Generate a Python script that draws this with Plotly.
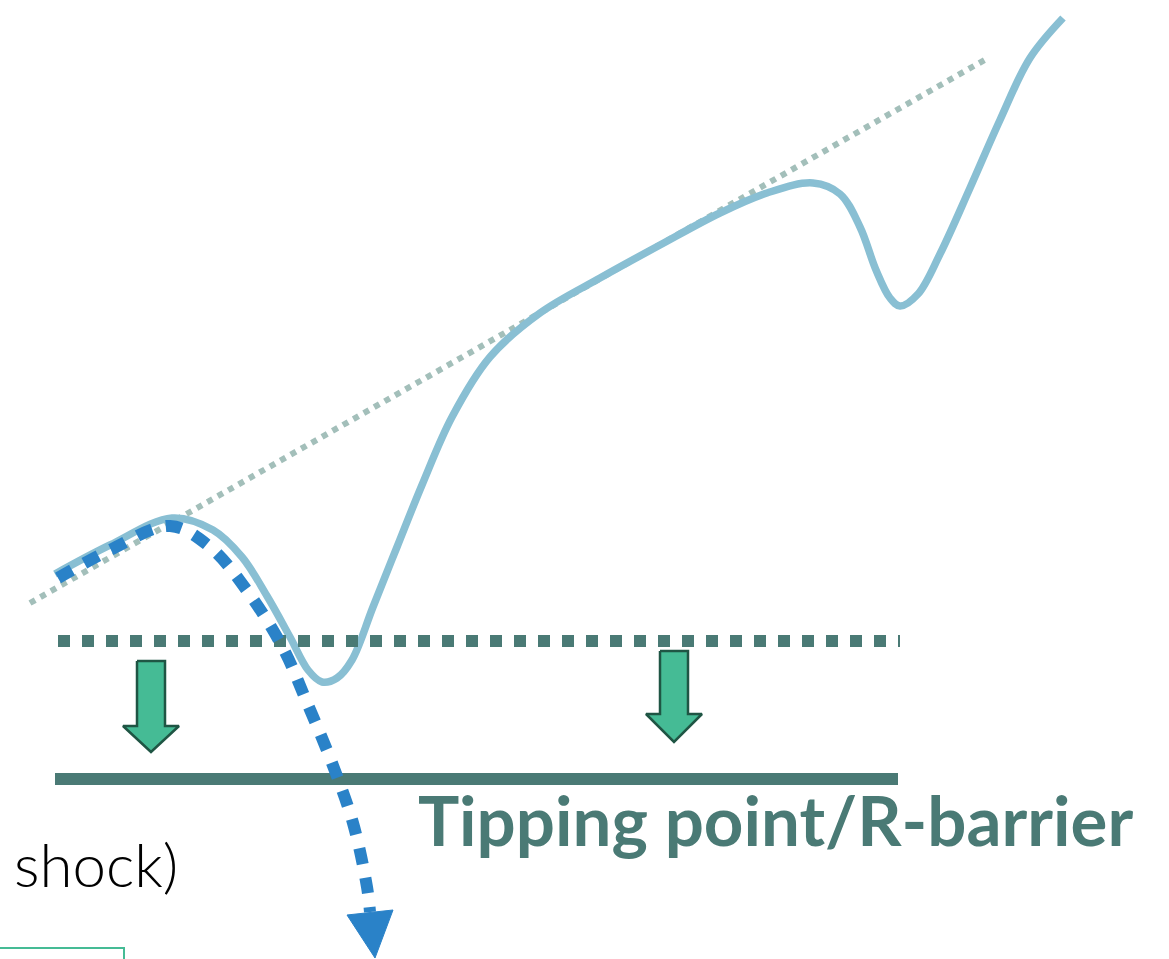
import plotly.graph_objects as go

# ---- data (diagram coordinates, pixel space) ----
curve_x = [55, 110, 172, 213, 242, 267, 290, 308, 322, 337, 352, 373, 397, 422, 452, 490, 540, 600, 660, 720, 767, 813, 840, 860, 876, 890, 900, 918, 940, 970, 1000, 1030, 1063]
curve_y = [574, 545, 518, 530, 557, 596, 637, 670, 682, 678, 660, 607, 547, 485, 417, 357, 313, 278, 245, 213, 193, 183, 194, 227, 270, 298, 306, 294, 254, 188, 120, 58, 18]

shock_x = [58, 110, 170, 210, 248, 283, 308, 332, 353, 367, 370]
shock_y = [578, 550, 526, 547, 592, 648, 705, 763, 823, 887, 912]

trend_x = [30, 988]
trend_y = [603, 58]

threshold_x = [58, 900]
threshold_y = [641, 641]

barrier_x = [55, 898]
barrier_y = [779, 779]

arrow_cx = [151, 674]
arrow_top = [661, 651]
arrow_head = [726, 714]
arrow_tip = [752, 742]

label_barrier = "Tipping point/R-barrier"
label_shock = "shock)"

# ---- styles ----
C_CURVE = "#89bfd3"
C_SHOCK = "#2a82c8"
C_TREND = "#a3bfba"
C_DARK = "#4a7a75"
C_GREEN = "#45bb95"
C_GREEN_EDGE = "#1f5544"

fig = go.Figure()

fig.add_trace(go.Scatter(x=trend_x, y=trend_y, mode="lines",
                         line=dict(color=C_TREND, width=6, dash="6px,6px"),
                         hoverinfo="skip"))
fig.add_trace(go.Scatter(x=curve_x, y=curve_y, mode="lines",
                         line=dict(color=C_CURVE, width=7.5, shape="spline", smoothing=1.0),
                         hoverinfo="skip"))
fig.add_trace(go.Scatter(x=threshold_x, y=threshold_y, mode="lines",
                         line=dict(color=C_DARK, width=12, dash="12px,12px"),
                         hoverinfo="skip"))
fig.add_trace(go.Scatter(x=barrier_x, y=barrier_y, mode="lines",
                         line=dict(color=C_DARK, width=12),
                         hoverinfo="skip"))
fig.add_trace(go.Scatter(x=shock_x, y=shock_y, mode="lines",
                         line=dict(color=C_SHOCK, width=12, dash="16px,14px", shape="spline", smoothing=1.0),
                         hoverinfo="skip"))

# arrow head of shock path
hx = shock_x[-1]
hy = shock_y[-1]
fig.add_trace(go.Scatter(x=[hx - 23, hx + 23, hx + 5, hx - 23], y=[hy + 3, hy - 2, hy + 46, hy + 3],
                         mode="lines", fill="toself", fillcolor=C_SHOCK,
                         line=dict(color=C_SHOCK, width=1), hoverinfo="skip"))

# green down arrows
for cx, t, h, tip in zip(arrow_cx, arrow_top, arrow_head, arrow_tip):
    sw, hw = 14, 28
    xs = [cx - sw, cx + sw, cx + sw, cx + hw, cx, cx - hw, cx - sw, cx - sw]
    ys = [t, t, h, h, tip, h, h, t]
    fig.add_trace(go.Scatter(x=xs, y=ys, mode="lines", fill="toself", fillcolor=C_GREEN,
                             line=dict(color=C_GREEN_EDGE, width=2.5), hoverinfo="skip"))

# partial box at bottom left
fig.add_shape(type="rect", x0=-10, x1=124, y0=948, y1=975,
              line=dict(color=C_GREEN, width=2), fillcolor="rgba(0,0,0,0)")

fig.add_annotation(x=416, y=819, text=label_barrier, showarrow=False,
                   xanchor="left", yanchor="middle",
                   font=dict(family="Lato", size=69, color=C_DARK, weight=700))
fig.add_annotation(x=12, y=864, text=label_shock, showarrow=False,
                   xanchor="left", yanchor="middle",
                   font=dict(family="Lato", size=60, color="#000000", weight=300))

fig.update_layout(
    width=1169, height=959,
    margin=dict(l=0, r=0, t=0, b=0),
    paper_bgcolor="white", plot_bgcolor="white",
    showlegend=False,
    xaxis=dict(range=[0, 1169], visible=False, fixedrange=True),
    yaxis=dict(range=[959, 0], visible=False, fixedrange=True),
)

fig.write_html("out.html", config={"displayModeBar": False},
               post_script="document.body.style.margin='0';document.body.style.overflow='hidden';")
